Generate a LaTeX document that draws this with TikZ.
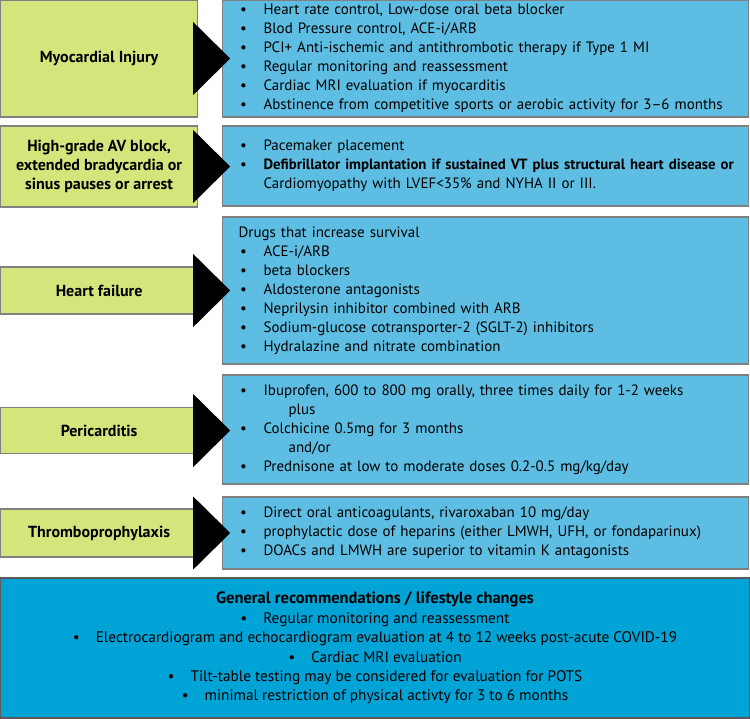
\documentclass[tikz,border=0pt]{standalone}
\usepackage{fontspec}
\setmainfont{PT Sans}
\usetikzlibrary{positioning,calc}
\definecolor{causegreen}{RGB}{213,229,123}
\definecolor{therapyblue}{RGB}{93,189,226}
\definecolor{generalblue}{RGB}{0,163,214}
\definecolor{edgegray}{RGB}{128,128,128}
\tikzset{
  cause/.style={draw=edgegray, line width=1.2pt, fill=causegreen, minimum width=197pt,
    anchor=west, align=center, inner sep=0pt, font=\fontsize{16}{19}\selectfont\bfseries},
  therapy/.style={draw=edgegray, line width=1.2pt, fill=therapyblue, text width=504pt,
    inner xsep=11pt, inner ysep=0pt, anchor=west, align=left, font=\fontsize{15}{19}\selectfont},
  general/.style={draw=edgegray!70!black, line width=1.2pt, fill=generalblue, minimum width=750pt,
    minimum height=140pt, align=center, font=\fontsize{15.3}{19.4}\selectfont},
  pointer/.style={fill=black},
}
\newcommand{\bul}{\makebox[20pt]{\textbullet}\hspace{10pt}}
\newcommand{\cbul}{\textbullet\hspace{16pt}}
\begin{document}
\begin{tikzpicture}[x=1pt,y=-1pt]
  \useasboundingbox (0,0) rectangle (750,718);
  \node[therapy, minimum height=117pt] (miT) at (222,58.5) {\bul Heart rate control, Low-dose oral beta blocker\\
    \bul Blod Pressure control, ACE-i/ARB\\
    \bul PCI+ Anti-ischemic and antithrombotic therapy if Type 1 MI\\
    \bul Regular monitoring and reassessment\\
    \bul Cardiac MRI evaluation if myocarditis\\
    \bul Abstinence from competitive sports or aerobic activity for 3--6 months};
  \node[therapy, minimum height=80pt] (avT) at (222,166) {\bul Pacemaker placement\\
    \bul \mbox{\fontsize{14.8}{19}\selectfont\bfseries Defibrillator implantation if sustained VT plus structural heart disease or}\\
    \hspace{30pt}Cardiomyopathy with LVEF<35\% and NYHA II or III.};
  \node[therapy, minimum height=147pt] (hfT) at (222,290.5) {\hspace{5pt}Drugs that increase survival\\
    \bul ACE-i/ARB\\
    \bul beta blockers\\
    \bul Aldosterone antagonists\\
    \bul Neprilysin inhibitor combined with ARB\\
    \bul Sodium-glucose cotransporter-2 (SGLT-2) inhibitors\\
    \bul Hydralazine and nitrate combination};
  \node[therapy, minimum height=109pt] (pcT) at (222,429.5) {\bul Ibuprofen, 600 to 800 mg orally, three times daily for 1-2 weeks\\
    \hspace{55pt}plus\\
    \bul Colchicine 0.5mg for 3 months\\
    \hspace{55pt}and/or\\
    \bul Prednisone at low to moderate doses 0.2-0.5 mg/kg/day};
  \node[therapy, minimum height=72pt] (tpT) at (222,533) {\bul Direct oral anticoagulants, rivaroxaban 10 mg/day\\
    \bul prophylactic dose of heparins (either LMWH, UFH, or fondaparinux)\\
    \bul DOACs and LMWH are superior to vitamin K antagonists};
  \node[cause, minimum height=117pt] (mi) at (0,58.5) {Myocardial Injury};
  \node[cause, minimum height=81pt] (av) at (0,166.5) {High-grade AV block,\\extended bradycardia or\\sinus pauses or arrest};
  \node[cause, minimum height=47pt] (hf) at (0,290.5) {Heart failure};
  \node[cause, minimum height=46pt] (pc) at (0,430.5) {Pericarditis};
  \node[cause, minimum height=48pt] (tp) at (0,533) {Thromboprophylaxis};
  \foreach \n in {mi,av,hf,pc,tp}
    \fill[pointer] ([xshift=-5pt,yshift=36.5pt]\n.east) -- ([xshift=32pt]\n.east)
      -- ([xshift=-5pt,yshift=-36.5pt]\n.east) -- cycle;
  \node[general] (gen) at (375,648) {{\fontsize{16.5}{19.4}\selectfont\bfseries General recommendations / lifestyle changes}\\
    \cbul Regular monitoring and reassessment\\
    \cbul Electrocardiogram and echocardiogram evaluation at 4 to 12 weeks post-acute COVID-19\\
    \cbul Cardiac MRI evaluation\\
    \cbul Tilt-table testing may be considered for evaluation for POTS\\
    \cbul minimal restriction of physical activty for 3 to 6 months};
\end{tikzpicture}
\end{document}
